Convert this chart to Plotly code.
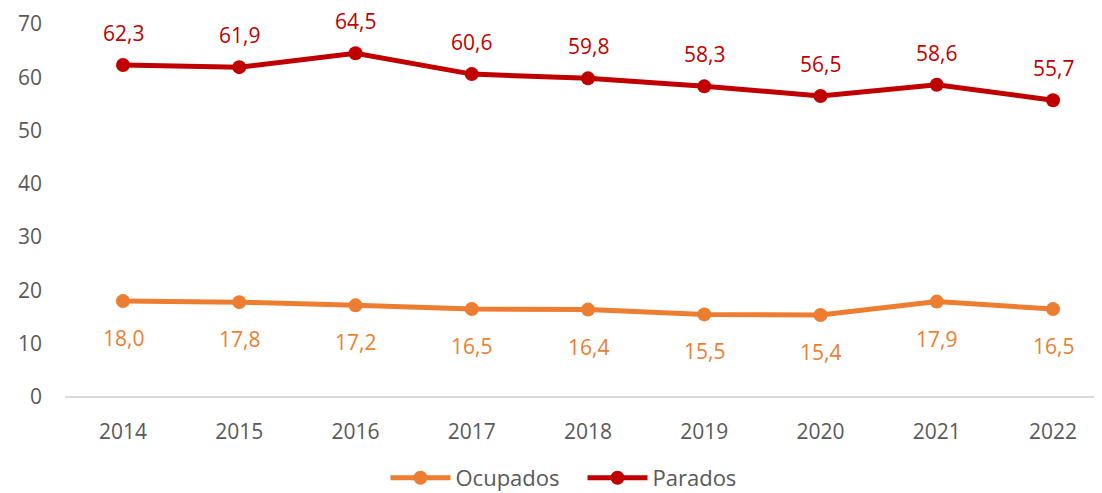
import plotly.graph_objects as go

years = [2014, 2015, 2016, 2017, 2018, 2019, 2020, 2021, 2022]
ocupados = [18.0, 17.8, 17.2, 16.5, 16.4, 15.5, 15.4, 17.9, 16.5]
parados = [62.3, 61.9, 64.5, 60.6, 59.8, 58.3, 56.5, 58.6, 55.7]

def fmt(v):
    return f"{v:.1f}".replace(".", ",")

FONT = "Open Sans, Noto Sans, sans-serif"
C_OC = "#ED7D31"
C_PA = "#C00000"
fig = go.Figure()
fig.add_trace(go.Scatter(
    x=years, y=ocupados, name="Ocupados", mode="lines+markers",
    line=dict(color=C_OC, width=5), marker=dict(size=14, color=C_OC), cliponaxis=False))
fig.add_trace(go.Scatter(
    x=years, y=parados, name="Parados", mode="lines+markers",
    line=dict(color=C_PA, width=5), marker=dict(size=14, color=C_PA), cliponaxis=False))

annotations = []
for x, v in zip(years, ocupados):
    annotations.append(dict(x=x, y=v, text=fmt(v), showarrow=False, yshift=-37,
                            borderpad=0, font=dict(color=C_OC, size=21, family=FONT)))
for x, v in zip(years, parados):
    annotations.append(dict(x=x, y=v, text=fmt(v), showarrow=False, yshift=32,
                            borderpad=0, font=dict(color=C_PA, size=21, family=FONT)))

fig.update_layout(
    width=1094, height=485,
    margin=dict(l=57, r=2, t=16, b=96),
    paper_bgcolor="white", plot_bgcolor="white",
    font=dict(family=FONT, color="#595959", size=21),
    showlegend=True,
    annotations=annotations,
    legend=dict(orientation="h", x=0.5, xanchor="center", yref="container",
                y=0.031, yanchor="middle",
                font=dict(size=22, color="#595959"), itemwidth=60,
                entrywidth=122),
    xaxis=dict(range=[2013.501, 2022.404], tickmode="array", tickvals=years,
               ticktext=[str(y) for y in years], showgrid=False, zeroline=False,
               showline=False, ticks="", tickfont=dict(size=21, color="#595959"),
               ticklabelstandoff=20),
    yaxis=dict(range=[0, 70], dtick=10, showgrid=False, zeroline=True,
               zerolinecolor="#D9D9D9", zerolinewidth=2, ticks="",
               tickfont=dict(size=21, color="#595959"), ticklabelstandoff=22),
)
fig.write_html("out.html")
